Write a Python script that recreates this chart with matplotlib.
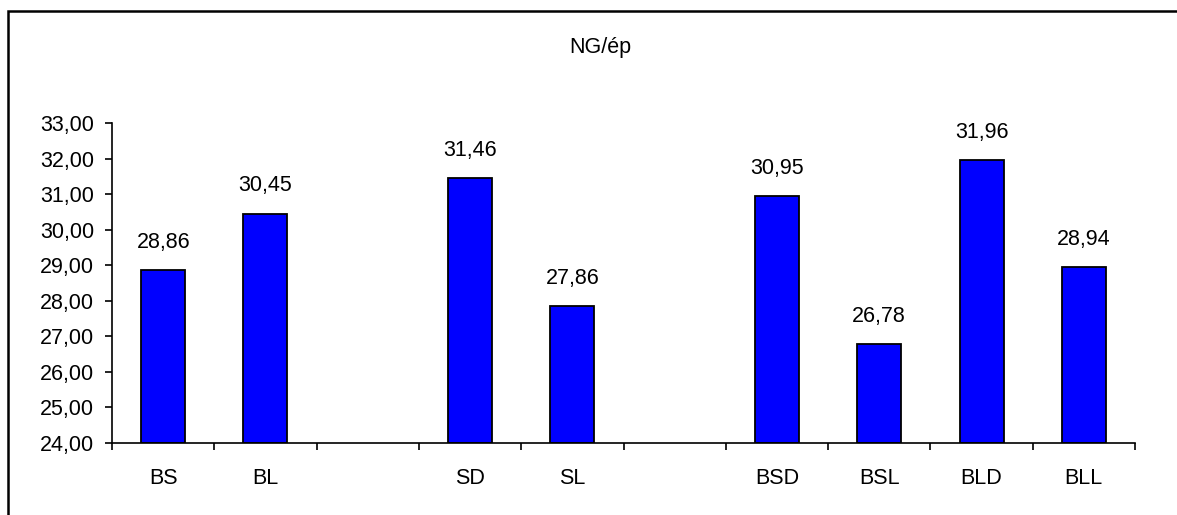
import numpy as np
import matplotlib.pyplot as plt
from matplotlib.patches import Rectangle

plt.rcParams['font.family'] = ['Liberation Sans', 'DejaVu Sans']

title = "NG/ép"
categories = ["BS", "BL", "", "SD", "SL", "", "BSD", "BSL", "BLD", "BLL"]
values = [28.86, 30.45, np.nan, 31.46, 27.86, np.nan, 30.95, 26.78, 31.96, 28.94]
y_ticks = [24, 25, 26, 27, 28, 29, 30, 31, 32, 33]

fs = 15.5

fig = plt.figure(figsize=(11.77, 5.15), dpi=100)
ax = fig.add_axes([0.0952, 0.1398, 0.8691, 0.6212])

x = np.arange(len(categories))
vals = np.array(values, dtype=float)
ok = ~np.isnan(vals)
ax.bar(x[ok], vals[ok] - 24, bottom=24, width=0.43,
       color="#0000ff", edgecolor="black", linewidth=1.3)
for xi, v in zip(x[ok], vals[ok]):
    ax.annotate(f"{v:.2f}".replace(".", ","), (xi, v), xytext=(0, 20),
                textcoords="offset points", ha="center", va="center", fontsize=fs)

ax.set_xlim(-0.5, len(categories) - 0.5)
ax.set_ylim(24, 33)
ax.set_yticks(y_ticks)
ax.set_yticklabels([f"{t:.2f}".replace(".", ",") for t in y_ticks], fontsize=fs)
ax.set_xticks(np.arange(len(categories) + 1) - 0.5)
ax.set_xticklabels([])
ax.set_xticks(x, minor=True)
ax.set_xticklabels(categories, minor=True, fontsize=fs)
ax.tick_params(axis="x", which="minor", length=0, pad=18)
ax.tick_params(axis="both", which="major", length=5, width=1.2, direction="out")
ax.tick_params(axis="y", pad=8)
for s in ["top", "right"]:
    ax.spines[s].set_visible(False)
for s in ["left", "bottom"]:
    ax.spines[s].set_linewidth(1.2)

fig.text(0.51, 0.907, title, ha="center", va="center", fontsize=fs)
fig.patches.append(Rectangle((8 / 1177, -0.1), 1.1, 0.1 + (515 - 11) / 515,
                             transform=fig.transFigure, fill=False,
                             edgecolor="black", linewidth=1.8))

fig.savefig("out.png", dpi=100)
